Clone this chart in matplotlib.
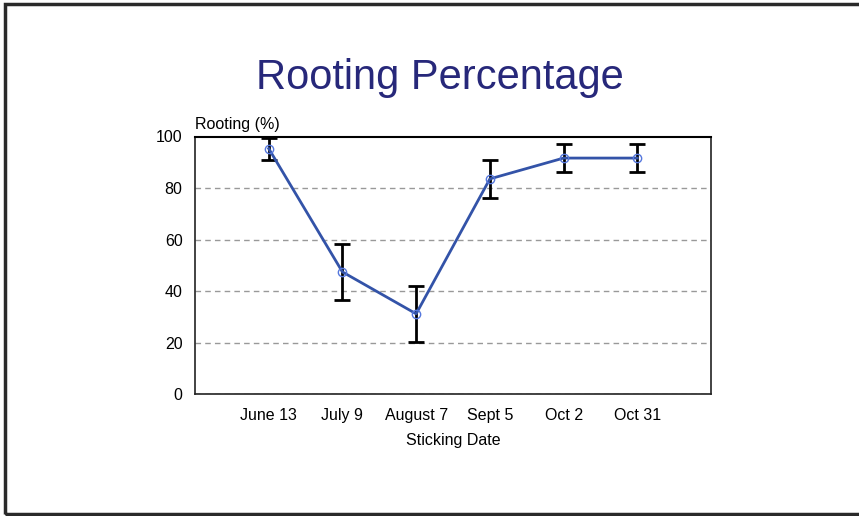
import matplotlib.pyplot as plt
from matplotlib.patches import Rectangle

plt.rcParams['font.family'] = ['Liberation Sans', 'DejaVu Sans']

dates = ['June 13', 'July 9', 'August 7', 'Sept 5', 'Oct 2', 'Oct 31']
rooting = [95.5, 47.5, 31.2, 83.7, 91.8, 91.8]
err = [4.3, 10.8, 10.9, 7.5, 5.4, 5.6]

fig = plt.figure(figsize=(8.59, 5.16), dpi=100)
ax = fig.add_axes([195/859, 1-394/516, 516/859, 257/516])

x = list(range(len(dates)))
ax.errorbar(x, rooting, yerr=err, fmt='none', ecolor='black', elinewidth=2,
            capsize=6, capthick=2, zorder=3)
ax.plot(x, rooting, color='#3353a8', lw=2, zorder=4)
ax.plot(x, rooting, 'o', mfc='none', mec='#5577dd', ms=6, mew=1, zorder=5)

ax.set_xlim(-1, 6)
ax.set_ylim(0, 100)
ax.set_yticks([0, 20, 40, 60, 80])
ax.set_xticks(x)
ax.set_xticklabels(dates)
ax.tick_params(length=0, labelsize=11.5, pad=9)
ax.tick_params(axis='x', pad=10)
ax.yaxis.grid(True, color='#999999', ls=(0, (4, 3)), lw=1)
ax.set_axisbelow(True)
ax.text(-0.025, 1.0, '100', transform=ax.transAxes, fontsize=11.5, ha='right', va='center')
for s in ax.spines.values():
    s.set_color('#222222')
    s.set_linewidth(1.2)
ax.spines['top'].set_color('black')
ax.spines['top'].set_linewidth(1.5)
ax.set_xlabel('Sticking Date', fontsize=11.5, labelpad=7)
ax.text(0, 1.02, 'Rooting (%)', transform=ax.transAxes, fontsize=11.5, ha='left', va='bottom')

fig.text(440/859, 1-78/516, 'Rooting Percentage', fontsize=30, color='#27287a',
         ha='center', va='center')

fig.patches.append(Rectangle((5/859, 1-514/516), 900/859, 510/516, transform=fig.transFigure,
                             fill=False, ec='#2a2a2a', lw=2.5))

fig.savefig('out.png', dpi=100)
